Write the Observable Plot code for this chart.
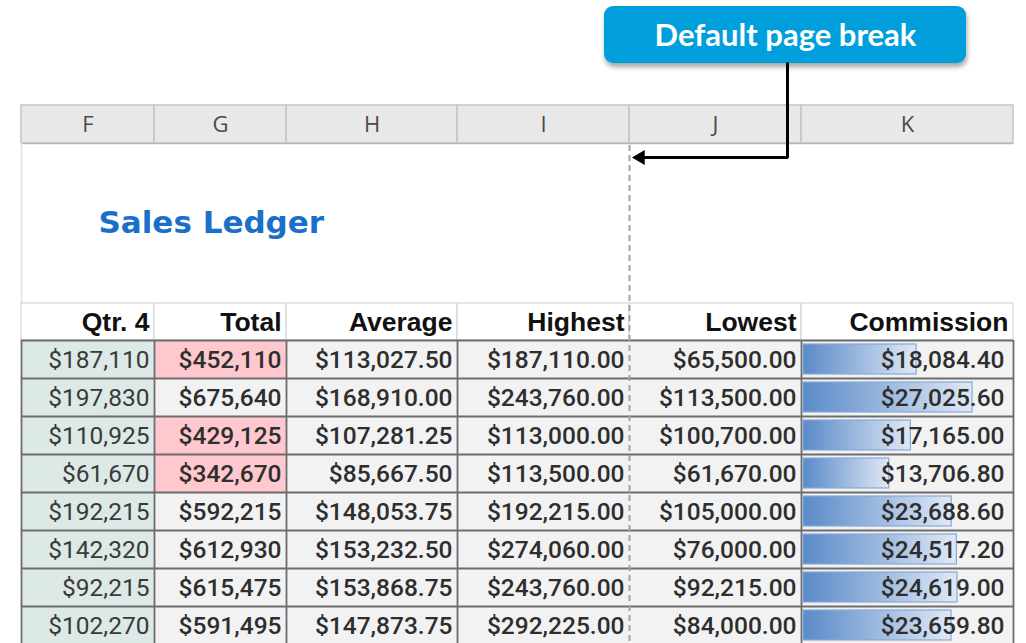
<!DOCTYPE html>
<html>
<head>
<meta charset="utf-8">
<script src="https://cdn.jsdelivr.net/npm/d3@7"></script>
<script src="https://cdn.jsdelivr.net/npm/@observablehq/plot@0.6"></script>
<style>
  html, body { margin: 0; padding: 0; background: #ffffff; }
  #wrap { position: relative; width: 1026px; height: 643px; overflow: hidden; }
  #wrap > svg, #wrap > div { position: absolute; }
  #wrap svg { display: block; }
</style>
</head>
<body>
<div id="wrap"></div>
<script>
// ---------------- data ----------------
const columnLetters = ["F", "G", "H", "I", "J", "K"];
const headers = ["Qtr. 4", "Total", "Average", "Highest", "Lowest", "Commission"];
const qtr4 = [187110, 197830, 110925, 61670, 192215, 142320, 92215, 102270];
const total = [452110, 675640, 429125, 342670, 592215, 612930, 615475, 591495];
const average = [113027.50, 168910.00, 107281.25, 85667.50, 148053.75, 153232.50, 153868.75, 147873.75];
const highest = [187110, 243760, 113000, 113500, 192215, 274060, 243760, 292225];
const lowest = [65500, 113500, 100700, 61670, 105000, 76000, 92215, 84000];
const commission = [18084.40, 27025.60, 17165.00, 13706.80, 23688.60, 24517.20, 24619.00, 23659.80];
const totalHighlightBelow = 500000;
const sheetTitle = "Sales Ledger";
const calloutText = "Default page break";

// ---------------- layout ----------------
const W = 1026, H = 643;
const colEdges = [21, 154, 286, 457, 629, 801, 1013];
const letterRow = [105, 143];
const headerRow = [303, 340];
const rowH = 38;
const breakEdge = 4;            // page break after column I
const callout = {x1: 604, x2: 966, y1: 6, y2: 63, stemX: 787, elbowY: 157, tipX: 632};
const barFraction = 0.805;

const fmt0 = d3.format("$,.0f");
const fmt2 = d3.format("$,.2f");
const dataCols = [
  {values: qtr4, fmt: fmt0},
  {values: total, fmt: fmt0},
  {values: average, fmt: fmt2},
  {values: highest, fmt: fmt2},
  {values: lowest, fmt: fmt2},
  {values: commission, fmt: fmt2}
];
const nRows = qtr4.length;
const dataTop = headerRow[1];
const dataBottom = dataTop + nRows * rowH;

const letterCells = columnLetters.map((c, j) => ({c, x1: colEdges[j], x2: colEdges[j + 1]}));
const headerCells = headers.map((h, j) => ({h, x1: colEdges[j], x2: colEdges[j + 1]}));
const cells = [];
for (let i = 0; i < nRows; ++i) {
  dataCols.forEach((col, j) => {
    let fill = "#f2f2f2";
    if (j === 0) fill = "#dde9e7";
    if (j === 1 && total[i] < totalHighlightBelow) fill = "#ffc7ce";
    cells.push({
      i, j, fill,
      label: col.fmt(col.values[i]),
      x1: colEdges[j], x2: colEdges[j + 1],
      y1: dataTop + i * rowH, y2: dataTop + (i + 1) * rowH
    });
  });
}
const hLines = d3.range(nRows + 1).map(i => ({y: dataTop + i * rowH}));
const vLines = colEdges.map((x, k) => ({x, k})).filter(d => d.k !== breakEdge);

const dataFont = {fill: "#2e2e2e", fontSize: 24.5, fontFamily: "Roboto", fontWeight: 500};

const main = Plot.plot({
  width: W, height: H,
  margin: 0,
  x: {domain: [0, W], range: [0, W], axis: null},
  y: {domain: [0, H], range: [0, H], axis: null},
  style: {background: "white", overflow: "visible"},
  marks: [
    Plot.rect(letterCells, {x1: "x1", x2: "x2", y1: letterRow[0], y2: letterRow[1], fill: "#e8e8e8", stroke: "#c4c4c4", strokeWidth: 1.5}),
    Plot.ruleY([letterRow[1]], {x1: colEdges[0], x2: colEdges[6], stroke: "#b8b8b8", strokeWidth: 1.5}),
    Plot.text(letterCells, {x: d => (d.x1 + d.x2) / 2, y: (letterRow[0] + letterRow[1]) / 2, text: "c", fill: "#4a4a4a", fontSize: 22, fontFamily: "Open Sans", lineAnchor: "middle"}),
    Plot.ruleX([colEdges[0]], {y1: letterRow[1], y2: headerRow[0], stroke: "#e2e2e2", strokeWidth: 1.5}),
    Plot.text([sheetTitle], {x: 98, y: 223, text: d => d, textAnchor: "start", lineAnchor: "middle", fill: "#1a6fc9", fontSize: 31, fontWeight: "bold", fontFamily: "DejaVu Sans"}),
    Plot.rect(headerCells, {x1: "x1", x2: "x2", y1: headerRow[0], y2: headerRow[1], fill: "white", stroke: "#d6d6d6", strokeWidth: 1.2}),
    Plot.text(headerCells, {x: d => d.x2 - 5, y: (headerRow[0] + headerRow[1]) / 2 + 1, text: "h", textAnchor: "end", lineAnchor: "middle", fill: "#111", fontSize: 26.5, fontWeight: "bold", fontFamily: "Liberation Sans"}),
    Plot.rect(cells, {x1: "x1", x2: "x2", y1: "y1", y2: "y2", fill: "fill"}),
    Plot.ruleY(hLines, {y: "y", x1: colEdges[0], x2: colEdges[6], stroke: "#6d6d6d", strokeWidth: 1.8}),
    Plot.ruleX(vLines, {x: "x", y1: dataTop, y2: dataBottom, stroke: "#6d6d6d", strokeWidth: 1.8}),
    Plot.ruleX([colEdges[breakEdge]], {y1: letterRow[1] + 2, y2: H, stroke: "#a3a3a3", strokeWidth: 2, strokeDasharray: "6,4"}),
    Plot.text(cells.filter(d => d.j === 0), {x: d => d.x2 - 5, y: d => (d.y1 + d.y2) / 2 + 1, text: "label", textAnchor: "end", lineAnchor: "middle", ...dataFont, fontWeight: 400, fill: "#3a3a3a"}),
    Plot.text(cells.filter(d => d.j > 0 && d.j < 5), {x: d => d.x2 - 5, y: d => (d.y1 + d.y2) / 2 + 1, text: "label", textAnchor: "end", lineAnchor: "middle", ...dataFont}),
    Plot.rect([callout], {x1: "x1", x2: "x2", y1: "y1", y2: "y2", fill: "#009fdb", rx: 9, ariaDescription: "callout"}),
    Plot.text([calloutText], {x: (callout.x1 + callout.x2) / 2, y: (callout.y1 + callout.y2) / 2 + 1, text: d => d, fill: "white", fontSize: 31, fontWeight: "bold", fontFamily: "Lato", lineAnchor: "middle"}),
    Plot.line([[callout.stemX, callout.y2], [callout.stemX, callout.elbowY], [callout.tipX + 10, callout.elbowY]], {x: d => d[0], y: d => d[1], stroke: "#000", strokeWidth: 3, strokeLinejoin: "miter"}),
    Plot.dot([[callout.tipX + 8, callout.elbowY]], {x: d => d[0], y: d => d[1], symbol: "triangle", rotate: -90, r: 5.5, fill: "#000", stroke: "none"})
  ]
});

d3.select(main).insert("defs", ":first-child").html(`
  <filter id="shadow" x="-10%" y="-20%" width="120%" height="160%">
    <feDropShadow dx="1" dy="4" stdDeviation="2.5" flood-color="#000" flood-opacity="0.35"/>
  </filter>`);
d3.select(main).selectAll("g[aria-description='callout']").attr("filter", "url(#shadow)");

document.getElementById("wrap").appendChild(main);
main.style.left = "0px";
main.style.top = "0px";

// commission data bars: own Plot over column K
const kLeft = colEdges[5] + 2;
const kWidth = colEdges[6] - kLeft;
const bars = Plot.plot({
  width: kWidth, height: nRows * rowH,
  margin: 0,
  x: {domain: [0, d3.max(commission) / barFraction], axis: null},
  y: {domain: d3.range(nRows), range: [0, nRows * rowH], padding: 0, round: false, axis: null},
  style: {background: "transparent", overflow: "visible"},
  marks: [
    Plot.barX(commission, {x: d => d, y: (d, i) => i, insetTop: 4, insetBottom: 4, fill: "url(#databar)", stroke: "#86a9d8", strokeWidth: 1.2}),
    Plot.text(commission, {y: (d, i) => i, text: d => fmt2(d), frameAnchor: "right", dx: -9, dy: 1, textAnchor: "end", lineAnchor: "middle", ...dataFont})
  ]
});
d3.select(bars).insert("defs", ":first-child").html(`
  <linearGradient id="databar" x1="0" x2="1" y1="0" y2="0">
    <stop offset="0" stop-color="#5a8ac8"/>
    <stop offset="1" stop-color="#dfe8f5"/>
  </linearGradient>`);
const holder = document.createElement("div");
holder.style.left = kLeft + "px";
holder.style.top = dataTop + "px";
holder.style.lineHeight = "0";
holder.appendChild(bars);
document.getElementById("wrap").appendChild(holder);
</script>
</body>
</html>
